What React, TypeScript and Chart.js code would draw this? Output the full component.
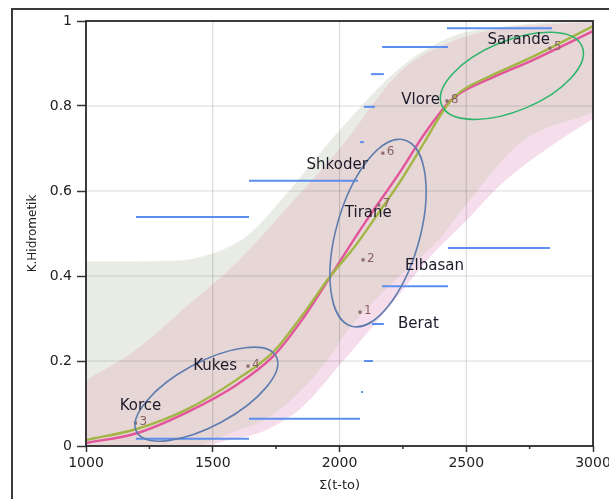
import React, { useEffect, useRef } from "react";
import { Chart, registerables } from "chart.js";

Chart.register(...registerables);

// ---------- data ----------
const xTicks = [1000, 1500, 2000, 2500, 3000];
const xMinorTicks = [1250, 1750, 2250, 2750];
const yTicks = [0, 0.2, 0.4, 0.6, 0.8, 1];

const cityNames = ["Berat", "Elbasan", "Korce", "Kukes", "Sarande", "Shkoder", "Tirane", "Vlore"];
const cityIds = ["1", "2", "3", "4", "5", "6", "7", "8"];
const cityX = [2081, 2093, 1195, 1639, 2830, 2171, 2155, 2424];
const cityY = [0.315, 0.438, 0.054, 0.188, 0.936, 0.689, 0.567, 0.812];

// pink fitted curve
const pinkFitX = [1000, 1200, 1394, 1592, 1740, 1850, 1962, 2030, 2100, 2239, 2330, 2400, 2436, 2480, 2600, 2763, 3000];
const pinkFitY = [0.007, 0.03, 0.078, 0.143, 0.212, 0.295, 0.397, 0.461, 0.525, 0.645, 0.73, 0.787, 0.812, 0.832, 0.866, 0.908, 0.976];
// green fitted curve
const greenFitX = [1000, 1200, 1394, 1592, 1740, 1850, 1962, 2061, 2150, 2239, 2330, 2400, 2436, 2480, 2600, 2763, 3000];
const greenFitY = [0.014, 0.04, 0.085, 0.155, 0.222, 0.305, 0.398, 0.47, 0.545, 0.622, 0.71, 0.78, 0.81, 0.835, 0.872, 0.916, 0.988];

// greenish confidence band
const bandGUpperX = [1000, 1350, 1450, 1550, 1647, 1800, 2002, 2239, 2436, 2633, 2850, 3000];
const bandGUpperY = [0.434, 0.436, 0.445, 0.465, 0.5, 0.6, 0.744, 0.89, 0.962, 0.986, 0.997, 1.0];
const bandGLowerX = [1000, 1400, 1450, 1568, 1700, 1830, 1950, 2030, 2254, 2383, 2515, 2712, 3000];
const bandGLowerY = [-0.1, -0.01, 0.0, 0.03, 0.06, 0.12, 0.2, 0.27, 0.41, 0.48, 0.58, 0.713, 0.785];
// pink prediction band
const bandPUpperX = [1000, 1197, 1394, 1592, 1800, 2002, 2239, 2436, 2633, 2850, 3000];
const bandPUpperY = [0.155, 0.226, 0.327, 0.43, 0.565, 0.7, 0.88, 0.95, 0.982, 0.993, 0.997];
const bandPLowerX = [1000, 1400, 1480, 1550, 1700, 1850, 2000, 2200, 2357, 2500, 2645, 2820, 3000];
const bandPLowerY = [-0.12, -0.02, 0.0, 0.012, 0.035, 0.09, 0.19, 0.33, 0.445, 0.53, 0.62, 0.7, 0.77];

// blue horizontal segments
const segStartX = [2424, 2168, 2124, 2097, 2081, 1643, 1197, 2428, 2168, 2128, 2097, 2085, 1643, 1197];
const segEndX = [2838, 2428, 2175, 2140, 2097, 2073, 1643, 2830, 2428, 2175, 2132, 2093, 2081, 1643];
const segY = [0.983, 0.939, 0.875, 0.798, 0.715, 0.624, 0.539, 0.466, 0.376, 0.287, 0.2, 0.127, 0.064, 0.017];

// ellipses: centre, end of major semi-axis (data units), minor/major ratio
const ellCenterX = [1475, 2152, 2680];
const ellCenterY = [0.122, 0.501, 0.871];
const ellAxisX = [1750, 2257, 2957];
const ellAxisY = [0.211, 0.72, 0.94];
const ellRatio = [0.4, 0.43, 0.46];

// ---------- styles / layout ----------
const ellColors = ["#5f7cae", "#5f7cae", "#2fb56c"];
const labelLayout: Record<string, { dx: number; dy: number; align: CanvasTextAlign }> = {
  Berat: { dx: 38, dy: 12, align: "left" },
  Elbasan: { dx: 42, dy: 6, align: "left" },
  Korce: { dx: 5, dy: -17, align: "center" },
  Kukes: { dx: -11, dy: 0, align: "right" },
  Sarande: { dx: 0, dy: -8, align: "right" },
  Shkoder: { dx: -15, dy: 12, align: "right" },
  Tirane: { dx: 13, dy: 8, align: "right" },
  Vlore: { dx: -7, dy: -1, align: "right" },
};

const pts = (xs: number[], ys: number[]) => xs.map((x, i) => ({ x, y: ys[i] }));

const overlayPlugin = {
  id: "overlay",
  beforeDatasetsDraw(chart: any) {
    const { ctx, chartArea: a, scales } = chart;
    const x = scales.x, y = scales.y;
    ctx.save();
    ctx.strokeStyle = "rgba(0,0,0,0.14)";
    ctx.lineWidth = 1.2;
    for (const v of xTicks) {
      const px = x.getPixelForValue(v);
      ctx.beginPath();
      ctx.moveTo(px, a.top);
      ctx.lineTo(px, a.bottom);
      ctx.stroke();
    }
    for (const v of yTicks) {
      const py = y.getPixelForValue(v);
      ctx.beginPath();
      ctx.moveTo(a.left, py);
      ctx.lineTo(a.right, py);
      ctx.stroke();
    }
    ctx.restore();
  },
  afterDatasetsDraw(chart: any) {
    const { ctx, scales } = chart;
    const x = scales.x, y = scales.y;
    ctx.save();
    // ellipses
    ctx.lineWidth = 1.6;
    for (let i = 0; i < ellCenterX.length; i++) {
      const cx = x.getPixelForValue(ellCenterX[i]);
      const cy = y.getPixelForValue(ellCenterY[i]);
      const ax = x.getPixelForValue(ellAxisX[i]);
      const ay = y.getPixelForValue(ellAxisY[i]);
      const r = Math.hypot(ax - cx, ay - cy);
      const ang = Math.atan2(ay - cy, ax - cx);
      ctx.strokeStyle = ellColors[i];
      ctx.beginPath();
      ctx.ellipse(cx, cy, r, r * ellRatio[i], ang, 0, Math.PI * 2);
      ctx.stroke();
    }
    // labels
    ctx.textBaseline = "middle";
    for (let i = 0; i < cityNames.length; i++) {
      const px = x.getPixelForValue(cityX[i]);
      const py = y.getPixelForValue(cityY[i]);
      ctx.font = "12px 'DejaVu Sans'";
      ctx.fillStyle = "#8a6262";
      ctx.textAlign = "left";
      ctx.fillText(cityIds[i], px + 4, py - 1);
      const l = labelLayout[cityNames[i]];
      ctx.font = "15px 'DejaVu Sans'";
      ctx.fillStyle = "#1d1b2a";
      ctx.textAlign = l.align;
      ctx.fillText(cityNames[i], px + l.dx, py + l.dy);
    }
    ctx.restore();
  },
  afterDraw(chart: any) {
    const { ctx, chartArea: a, scales } = chart;
    const x = scales.x;
    ctx.save();
    // plot frame
    ctx.strokeStyle = "#2a2a2a";
    ctx.lineWidth = 1.8;
    ctx.strokeRect(a.left, a.top, a.right - a.left, a.bottom - a.top);
    // outer frame
    ctx.strokeStyle = "#3a3a3a";
    ctx.lineWidth = 2;
    ctx.strokeRect(12, 9, 700, 600);
    // minor ticks
    ctx.lineWidth = 1.5;
    ctx.strokeStyle = "#333";
    for (const v of xMinorTicks) {
      const px = x.getPixelForValue(v);
      ctx.beginPath();
      ctx.moveTo(px, a.bottom);
      ctx.lineTo(px, a.bottom + 3);
      ctx.stroke();
    }
    // axis titles
    ctx.fillStyle = "#222";
    ctx.textAlign = "center";
    ctx.textBaseline = "middle";
    ctx.font = "13px 'DejaVu Sans'";
    ctx.fillText("Σ(t-to)", (a.left + a.right) / 2, 486);
    ctx.translate(33, (a.top + a.bottom) / 2);
    ctx.rotate(-Math.PI / 2);
    ctx.font = "12px 'DejaVu Sans'";
    ctx.fillText("K.Hidrometik", 0, 0);
    ctx.restore();
  },
};

export default function App() {
  const ref = useRef<HTMLCanvasElement>(null);
  useEffect(() => {
    if (!ref.current) return;
    const base = { pointRadius: 0, borderWidth: 0, borderColor: "transparent", cubicInterpolationMode: "monotone" as const };
    const datasets: any[] = [
      { ...base, data: pts(bandGLowerX, bandGLowerY), fill: false, order: 9 }, // 0
      { ...base, data: pts(bandGUpperX, bandGUpperY), fill: 0, backgroundColor: "rgb(233,236,228)", order: 8 }, // 1
      { ...base, data: pts(bandPLowerX, bandPLowerY), fill: false, order: 7 }, // 2
      { ...base, data: pts(bandPUpperX, bandPUpperY), fill: 2, backgroundColor: "rgb(246,221,235)", order: 6 }, // 3
      { ...base, data: pts(bandPUpperX, bandPUpperY), fill: 0, backgroundColor: "rgb(230,214,214)", order: 5 }, // 4
    ];
    for (let i = 0; i < segY.length; i++) {
      datasets.push({
        data: [{ x: segStartX[i], y: segY[i] }, { x: segEndX[i], y: segY[i] }],
        borderColor: "#5b8eef",
        borderWidth: 2,
        pointRadius: 0,
        fill: false,
        order: 3,
      });
    }
    datasets.push({
      data: pts(pinkFitX, pinkFitY),
      borderColor: "#e2559b",
      borderWidth: 2.4,
      pointRadius: 0,
      fill: false,
      cubicInterpolationMode: "monotone",
      order: 2,
    });
    datasets.push({
      data: pts(greenFitX, greenFitY),
      borderColor: "#a3b545",
      borderWidth: 2.4,
      pointRadius: 0,
      fill: false,
      cubicInterpolationMode: "monotone",
      order: 1,
    });
    datasets.push({
      data: pts(cityX, cityY),
      showLine: false,
      pointStyle: "rect",
      pointRadius: 2.2,
      pointBackgroundColor: "#8c6b6b",
      pointBorderWidth: 0,
      fill: false,
      order: 0,
    });

    const tickFont = { family: "'DejaVu Sans'", size: 14 };
    const chart = new Chart(ref.current, {
      type: "line",
      data: { datasets },
      options: {
        animation: false,
        responsive: false,
        devicePixelRatio: 1,
        layout: { padding: { top: 21, right: 16, left: 0, bottom: 0 } },
        plugins: {
          legend: { display: false },
          tooltip: { enabled: false },
          filler: { drawTime: "beforeDatasetsDraw", propagate: false },
        },
        events: [],
        scales: {
          x: {
            type: "linear",
            min: 1000,
            max: 3000,
            afterBuildTicks: (s: any) => {
              s.ticks = xTicks.map((v) => ({ value: v }));
            },
            ticks: { font: tickFont, color: "#222", padding: 3, maxRotation: 0, autoSkip: false, callback: (v: any) => String(v) },
            grid: { drawOnChartArea: false, tickLength: 6, tickColor: "#333", tickWidth: 1.5 },
            border: { display: false },
            afterFit: (s: any) => {
              s.height = 53;
              s.paddingLeft = 0;
              s.paddingRight = 0;
            },
          },
          y: {
            type: "linear",
            min: 0,
            max: 1,
            afterBuildTicks: (s: any) => {
              s.ticks = yTicks.map((v) => ({ value: v }));
            },
            ticks: { font: tickFont, color: "#222", padding: 5, autoSkip: false, callback: (v: any) => String(v) },
            grid: { drawOnChartArea: false, tickLength: 9, tickColor: "#333", tickWidth: 1.5 },
            border: { display: false },
            afterFit: (s: any) => {
              s.width = 86;
            },
          },
        },
      },
      plugins: [overlayPlugin],
    });
    return () => chart.destroy();
  }, []);

  return (
    <div style={{ position: "fixed", left: 0, top: 0, width: 609, height: 499, background: "#fff" }}>
      <canvas ref={ref} width={609} height={499} />
    </div>
  );
}
